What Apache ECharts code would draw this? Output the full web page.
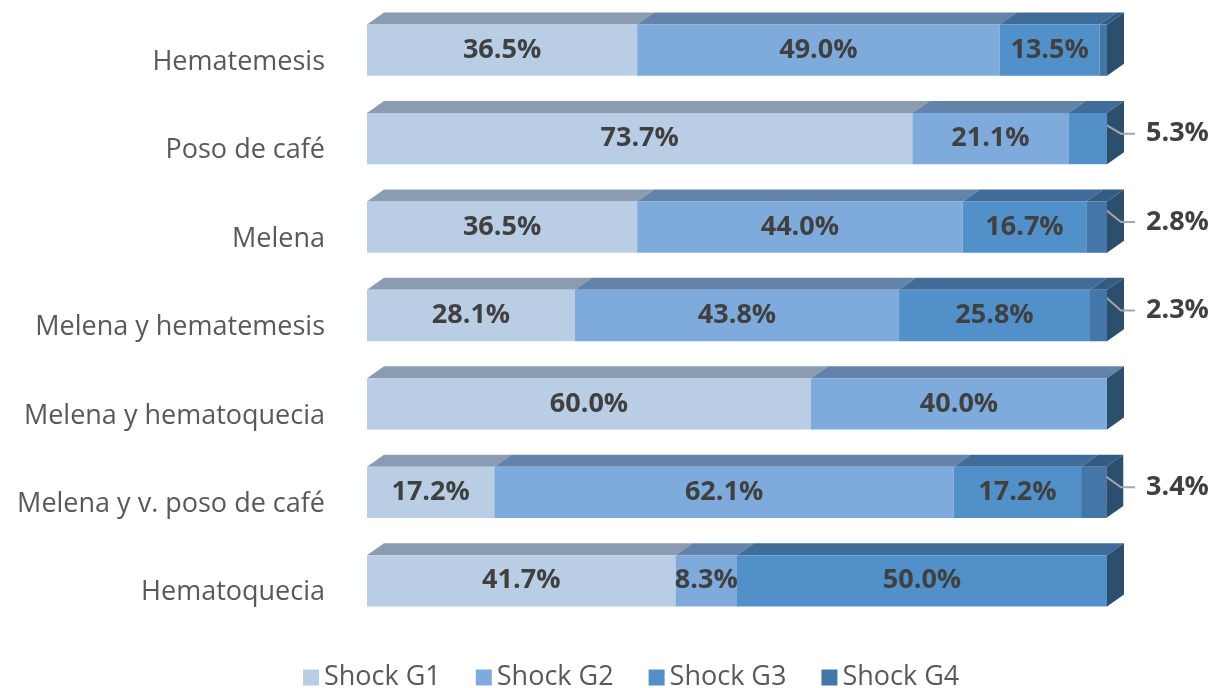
<!DOCTYPE html>
<html>
<head>
<meta charset="utf-8">
<script src="https://cdn.jsdelivr.net/npm/echarts@6/dist/echarts.min.js"></script>
<style>
html, body { margin: 0; padding: 0; background: #fff; }
#chart { width: 1224px; height: 688px; }
</style>
</head>
<body>
<div id="chart"></div>
<script>
var categories = ['Hematemesis', 'Poso de café', 'Melena', 'Melena y hematemesis',
  'Melena y hematoquecia', 'Melena y v. poso de café', 'Hematoquecia']
var seriesNames = ['Shock G1', 'Shock G2', 'Shock G3', 'Shock G4']
var g1 = [36.5, 73.7, 36.5, 28.1, 60.0, 17.2, 41.7]
var g2 = [49.0, 21.1, 44.0, 43.8, 40.0, 62.1, 8.3]
var g3 = [13.5, 5.3, 16.7, 25.8, 0, 17.2, 50.0]
var g4 = [1.0, 0, 2.8, 2.3, 0, 3.4, 0]

var frontColors = ['#B9CDE5', '#7EABDB', '#5190C9', '#4576A8']
var topColors = ['#8B9BB2', '#6483AA', '#3F6C98', '#335C84']
var sideColor = '#2D4F6E'
var font = 'Open Sans'
var depthX = 17, depthY = 12, barFrac = 0.58

var chart = echarts.init(document.getElementById('chart'))
var all = [g1, g2, g3, g4]

// top faces, right side face and the callout labels for thin segments
function render3d (params, api) {
  var i = api.value(1)
  var band = api.size([0, 1])[1]
  var h = band * barFrac
  var cy = api.coord([0, i])[1]
  var top = cy - h / 2, bot = cy + h / 2
  var kids = []
  var callouts = []
  var acc = 0
  for (var k = 0; k < 4; k++) {
    var v = all[k][i]
    if (!v) continue
    var x0 = api.coord([acc, i])[0]
    var x1 = api.coord([Math.min(acc + v, 100), i])[0]
    kids.push({
      type: 'polygon',
      shape: { points: [[x0, top], [x0 + depthX, top - depthY], [x1 + depthX, top - depthY], [x1, top]] },
      style: { fill: topColors[k] }
    })
    if (v >= 2 && v < 6) {
      var xr = api.coord([100, i])[0]
      var sx = (x0 + x1) / 2
      var ey = cy - 5
      callouts.push({
        type: 'polyline',
        shape: { points: [[sx, top + 1], [xr + depthX - 3, ey], [xr + depthX + 11, ey]] },
        style: { stroke: '#A6A6A6', lineWidth: 2, fill: null }
      })
      callouts.push({
        type: 'text',
        style: {
          x: xr + depthX + 22, y: ey, text: v.toFixed(1) + '%',
          fill: '#404040', font: 'bold 27px "' + font + '"',
          align: 'left', verticalAlign: 'middle'
        }
      })
    }
    acc += v
  }
  var xe = api.coord([Math.min(acc, 100), i])[0]
  kids.push({
    type: 'polygon',
    shape: { points: [[xe, top], [xe + depthX, top - depthY], [xe + depthX, bot - depthY], [xe, bot]] },
    style: { fill: sideColor }
  })
  return { type: 'group', children: kids.concat(callouts) }
}

var series = seriesNames.map(function (name, k) {
  return {
    name: name,
    type: 'bar',
    stack: 'total',
    barWidth: (barFrac * 100) + '%',
    data: all[k],
    itemStyle: { color: frontColors[k] },
    label: {
      show: true,
      position: 'inside',
      color: '#404040',
      fontWeight: 'bold',
      fontSize: 27,
      fontFamily: font,
      formatter: function (p) { return p.value >= 6 ? p.value.toFixed(1) + '%' : '' }
    },
    emphasis: { disabled: true }
  }
})
series.push({
  name: '3d',
  type: 'custom',
  silent: true,
  renderItem: render3d,
  encode: { x: 0, y: 1 },
  data: categories.map(function (c, i) { return [100, i] })
})

var option = {
  animation: false,
  grid: { left: 367, right: 117, top: 6, bottom: 63 },
  legend: {
    data: seriesNames,
    left: 298,
    top: 659,
    icon: 'rect',
    itemWidth: 16,
    itemHeight: 16,
    itemGap: 35,
    textStyle: { color: '#595959', fontSize: 27, fontFamily: font }
  },
  xAxis: { type: 'value', min: 0, max: 100, show: false },
  yAxis: {
    type: 'category',
    inverse: true,
    data: categories,
    axisLine: { show: false },
    axisTick: { show: false },
    axisLabel: {
      color: '#595959', fontSize: 27, fontFamily: font, margin: 42,
      verticalAlign: 'top', lineHeight: 24
    }
  },
  series: series
}
chart.setOption(option)
</script>
</body>
</html>
